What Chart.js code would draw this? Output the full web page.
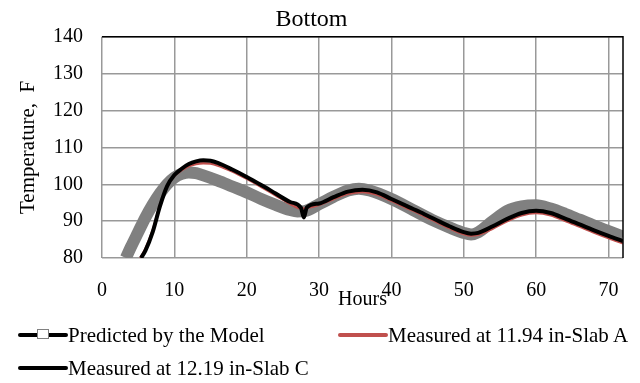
<!DOCTYPE html>
<html>
<head>
<meta charset="utf-8">
<script src="https://cdn.jsdelivr.net/npm/chart.js@4.4.1/dist/chart.umd.min.js"></script>
<style>
html, body { margin: 0; padding: 0; background: #fff; }
#wrap { position: relative; width: 640px; height: 383px; }
#legend { position: absolute; left: 0; top: 0; width: 640px; height: 383px; pointer-events: none;
  font-family: "Liberation Serif", "Times New Roman", serif; font-size: 21px; color: #000; }
.item { position: absolute; display: flex; align-items: center; white-space: nowrap; height: 24px; }
.swatch { position: relative; width: 50px; height: 24px; flex: none; }
.swatch .ln { position: absolute; left: 0; right: 0; top: 10px; height: 4px; border-radius: 2px; }
.swatch .mk { position: absolute; left: 19px; top: 6px; width: 10px; height: 8px; border: 1.5px solid #808080; background: #fff; }
</style>
</head>
<body>
<div id="wrap">
  <canvas id="chart" width="640" height="383"></canvas>
  <div id="legend"></div>
</div>
<script>
// Predicted by the model (grey band)
const predHours = [3.3, 4, 5, 6, 7, 8, 9, 10, 11, 12, 13, 14, 16, 18, 20, 22, 24, 26, 27, 28, 30, 32, 34, 35.5, 37, 40, 43, 46, 48, 50, 51, 52, 54, 56, 58, 60, 62, 64, 66, 68, 70, 72];
const predTemp = [80, 83, 87, 91, 94.5, 97.5, 100, 101.8, 102.8, 103.2, 103, 102.4, 101, 99.4, 97.8, 96, 94.4, 93, 92.6, 92.7, 94.6, 96.6, 98.3, 98.8, 98.3, 96, 93, 90, 88.3, 86.8, 86.4, 87, 90, 92.8, 94, 94.3, 93.4, 92, 90.4, 88.8, 87.3, 85.8];

// Measured at 11.94 in - Slab A (red)
const slabAHours = [5.3, 6, 7, 8, 9, 10, 11, 12, 13, 14, 15, 16, 18, 20, 22, 24, 26, 27.5, 30, 32, 34, 36, 38, 40, 42, 44, 46, 48, 50, 51, 52, 54, 56, 58, 60, 62, 64, 66, 68, 70, 72];
const slabATemp = [80, 82.5, 87.5, 94.3, 99.5, 102.3, 103.8, 104.9, 105.5, 105.7, 105.6, 105.1, 103.5, 101.5, 99.3, 97, 94.7, 93.4, 94.4, 96, 97.4, 97.9, 97.2, 95.5, 93.7, 91.9, 90, 88.1, 86.5, 86.1, 86.3, 88, 90, 91.6, 92.2, 91.6, 90.1, 88.5, 86.9, 85.4, 84];

// Measured at 12.19 in - Slab C (black)
const slabCHours = [5.4, 6, 7, 8, 9, 10, 11, 12, 13, 14, 15, 16, 18, 20, 22, 24, 26, 27.5, 27.9, 28.3, 30, 32, 34, 36, 38, 40, 42, 44, 46, 48, 50, 51, 52, 54, 56, 58, 60, 62, 64, 66, 68, 70, 72];
const slabCTemp = [80, 82, 87, 94, 99.5, 102.5, 104.2, 105.5, 106.2, 106.5, 106.4, 105.8, 104, 102, 99.8, 97.5, 95.2, 93.6, 91, 93.7, 94.8, 96.5, 98, 98.5, 97.8, 96, 94.2, 92.4, 90.5, 88.6, 87, 86.6, 86.8, 88.6, 90.6, 92.2, 92.8, 92.2, 90.7, 89.1, 87.5, 86, 84.6];

const xTicks = [0, 10, 20, 30, 40, 50, 60, 70];
const yTicks = [80, 90, 100, 110, 120, 130, 140];

const serif = "'Liberation Serif', 'Times New Roman', serif";

function toPoints(xs, ys) {
    return xs.map((x, i) => ({ x: x, y: ys[i] }));
}

// black frame on top and right of the plot area
const frameLines = {
    id: "frameLines",
    afterDatasetsDraw(chart) {
        const a = chart.chartArea;
        const ctx = chart.ctx;
        ctx.save();
        ctx.strokeStyle = "#000";
        ctx.lineWidth = 1.5;
        ctx.beginPath();
        ctx.moveTo(a.left, a.top);
        ctx.lineTo(a.right, a.top);
        ctx.lineTo(a.right, a.bottom);
        ctx.stroke();
        ctx.restore();
    }
};

const ctx = document.getElementById("chart").getContext("2d");
const chart = new Chart(ctx, {
    type: "line",
    data: {
        datasets: [
            {
                label: "Predicted by the Model",
                data: toPoints(predHours, predTemp),
                borderColor: "#808080",
                borderWidth: 12,
                pointRadius: 0,
                cubicInterpolationMode: "monotone",
                order: 3
            },
            {
                label: "Measured at 11.94 in-Slab A",
                data: toPoints(slabAHours, slabATemp),
                borderColor: "#c0504d",
                borderWidth: 2.5,
                pointRadius: 0,
                cubicInterpolationMode: "monotone",
                order: 2
            },
            {
                label: "Measured at 12.19 in-Slab C",
                data: toPoints(slabCHours, slabCTemp),
                borderColor: "#000000",
                borderWidth: 4,
                pointRadius: 0,
                cubicInterpolationMode: "monotone",
                order: 1
            }
        ]
    },
    options: {
        responsive: false,
        animation: false,
        devicePixelRatio: 1,
        layout: { padding: { left: 0, right: 17, top: 0, bottom: 70 } },
        plugins: {
            legend: { display: false },
            tooltip: { enabled: false },
            title: {
                display: true,
                text: "Bottom",
                color: "#000",
                font: { family: serif, size: 24, weight: "normal" },
                padding: { top: 5, bottom: 3 }
            }
        },
        scales: {
            x: {
                type: "linear",
                min: 0,
                max: 72,
                afterBuildTicks(scale) { scale.ticks = xTicks.map(v => ({ value: v })); },
                afterFit(scale) { scale.height = 55; },
                grid: { color: "#999", lineWidth: 1.5, drawTicks: false },
                border: { display: false },
                ticks: { color: "#000", padding: 21, maxRotation: 0, font: { family: serif, size: 20 } },
                title: { display: true, text: "Hours", color: "#000", font: { family: serif, size: 20 }, padding: { top: 0, bottom: 1 } }
            },
            y: {
                min: 80,
                max: 140,
                afterBuildTicks(scale) { scale.ticks = yTicks.map(v => ({ value: v })); },
                afterFit(scale) { scale.width = 102; },
                grid: { color: "#999", lineWidth: 1.5, drawTicks: false },
                border: { display: false },
                ticks: { color: "#000", padding: 19, font: { family: serif, size: 20 } },
                title: { display: true, text: "Temperature,  F", color: "#000", font: { family: serif, size: 21 }, padding: { top: 16, bottom: 0 } }
            }
        }
    },
    plugins: [frameLines]
});

// HTML legend built from the datasets
const legendSlots = [
    { left: 18, top: 323 },
    { left: 338, top: 323 },
    { left: 18, top: 356 }
];
const legendEl = document.getElementById("legend");
chart.data.datasets.forEach((ds, i) => {
    const item = document.createElement("div");
    item.className = "item";
    item.style.left = legendSlots[i].left + "px";
    item.style.top = legendSlots[i].top + "px";
    const sw = document.createElement("span");
    sw.className = "swatch";
    const ln = document.createElement("span");
    ln.className = "ln";
    ln.style.background = i === 0 ? "#000" : ds.borderColor;
    sw.appendChild(ln);
    if (i === 0) {
        const mk = document.createElement("span");
        mk.className = "mk";
        sw.appendChild(mk);
    }
    const tx = document.createElement("span");
    tx.textContent = ds.label;
    item.appendChild(sw);
    item.appendChild(tx);
    legendEl.appendChild(item);
});
</script>
</body>
</html>
